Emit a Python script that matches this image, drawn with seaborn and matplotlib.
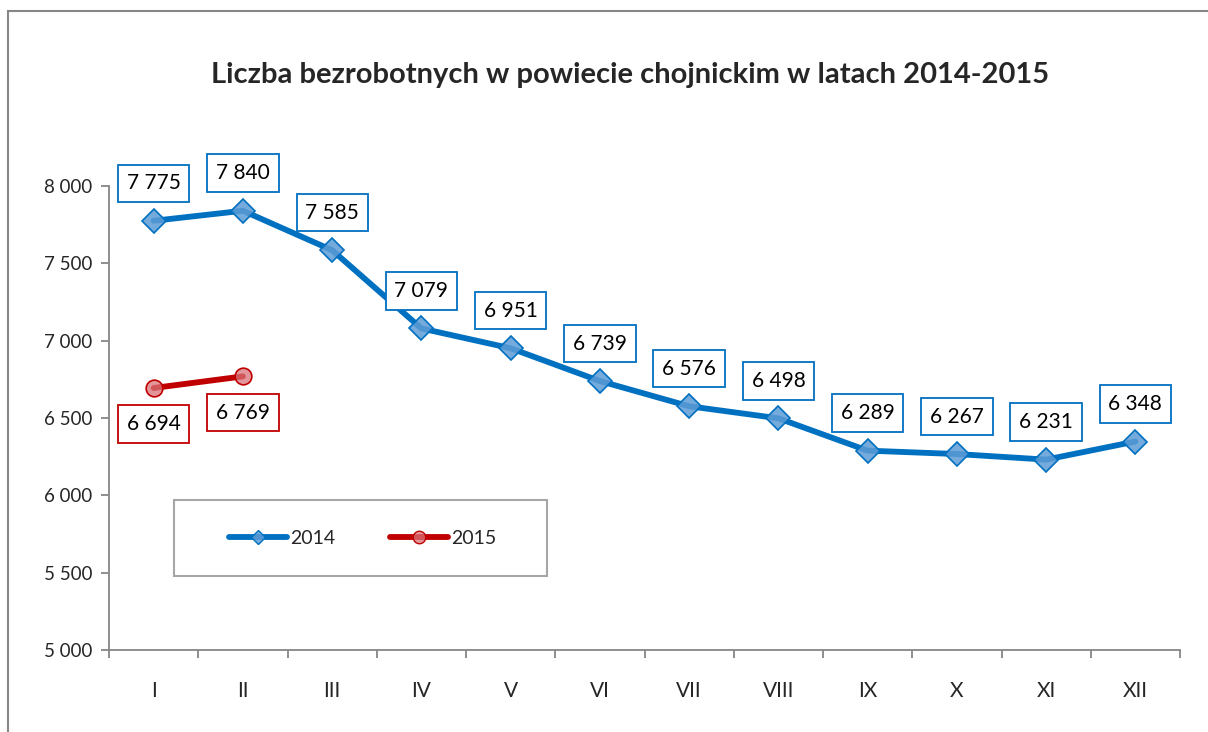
import numpy as np
import pandas as pd
import matplotlib
matplotlib.use('Agg')
import matplotlib.pyplot as plt
import seaborn as sns
from matplotlib.lines import Line2D
from matplotlib.patches import Rectangle

months = ['I', 'II', 'III', 'IV', 'V', 'VI', 'VII', 'VIII', 'IX', 'X', 'XI', 'XII']
values_2014 = [7775, 7840, 7585, 7079, 6951, 6739, 6576, 6498, 6289, 6267, 6231, 6348]
values_2015 = [6694, 6769]
y_ticks = [5000, 5500, 6000, 6500, 7000, 7500, 8000]

blue = '#0070C0'
blue_fill = (0.36, 0.61, 0.84, 0.85)
red = '#C00000'
red_fill = (0.85, 0.45, 0.47, 0.75)
axis_gray = '#868686'


def fmt(v):
    return f'{v:,}'.replace(',', ' ')


sns.set_style('white')
plt.rcParams['font.family'] = ['Lato', 'DejaVu Sans']

fig = plt.figure(figsize=(12.08, 7.32), dpi=100)
ax = fig.add_axes([109 / 1208, 1 - 650 / 732, 1071 / 1208, 464 / 732])

df14 = pd.DataFrame({'pos': np.arange(len(values_2014)), 'value': values_2014})
df15 = pd.DataFrame({'pos': np.arange(len(values_2015)), 'value': values_2015})

sns.lineplot(data=df14, x='pos', y='value', ax=ax, color=blue, linewidth=4.2,
             marker='D', markersize=12, markerfacecolor=blue_fill,
             markeredgecolor=blue, markeredgewidth=1.2, clip_on=False,
             solid_capstyle='round')
sns.lineplot(data=df15, x='pos', y='value', ax=ax, color=red, linewidth=4.2,
             marker='o', markersize=12, markerfacecolor=red_fill,
             markeredgecolor=red, markeredgewidth=1.2, clip_on=False,
             solid_capstyle='round')

# data labels
for x, v in zip(df14['pos'], df14['value']):
    ax.annotate(fmt(v), (x, v), xytext=(0, 27), textcoords='offset points',
                ha='center', va='center', fontsize=15, color='black',
                bbox=dict(boxstyle='square,pad=0.42', fc='white', ec=blue, lw=1.3),
                annotation_clip=False)
for x, v in zip(df15['pos'], df15['value']):
    ax.annotate(fmt(v), (x, v), xytext=(0, -26), textcoords='offset points',
                ha='center', va='center', fontsize=15, color='black',
                bbox=dict(boxstyle='square,pad=0.42', fc='white', ec=red, lw=1.3),
                annotation_clip=False)

ax.set_xlim(-0.5, len(months) - 0.5)
ax.set_ylim(5000, 8000)
ax.set_yticks(y_ticks)
ax.set_yticklabels([fmt(t) for t in y_ticks], fontsize=13.5)
ax.set_xticks(np.arange(len(months)))
ax.set_xticklabels(months, fontsize=15)
ax.set_xticks(np.arange(len(months) + 1) - 0.5, minor=True)
ax.set_xlabel('')
ax.set_ylabel('')

ax.tick_params(axis='x', which='major', length=0, pad=22)
ax.tick_params(axis='x', which='minor', length=6, width=1.3, color=axis_gray, direction='out')
ax.tick_params(axis='y', which='major', length=6, width=1.3, color=axis_gray, direction='out', pad=6)
ax.yaxis.set_ticks_position('left')
ax.xaxis.set_ticks_position('bottom')
for side in ['top', 'right']:
    ax.spines[side].set_visible(False)
for side in ['left', 'bottom']:
    ax.spines[side].set_color(axis_gray)
    ax.spines[side].set_linewidth(1.3)

# legend
frame = Rectangle((65 / 1071, 74 / 464), 373 / 1071, 76 / 464, transform=ax.transAxes,
                  fc='white', ec='#A6A6A6', lw=1.5, zorder=5)
ax.add_patch(frame)
handles = [Line2D([], [], color=blue, lw=4.2, marker='D', markersize=7,
                  markerfacecolor=blue_fill, markeredgecolor=blue, solid_capstyle='round'),
           Line2D([], [], color=red, lw=4.2, marker='o', markersize=9,
                  markerfacecolor=red_fill, markeredgecolor=red, solid_capstyle='round')]
leg = ax.legend(handles, ['2014', '2015'], ncol=2, loc='center',
                bbox_to_anchor=(67 / 1071 + 373 / 1071 / 2, 112 / 464),
                frameon=False, fontsize=14, handlelength=3.0, handletextpad=0.15,
                columnspacing=2.8)
leg.set_zorder(6)

fig.text(630 / 1208, 1 - 75 / 732, 'Liczba bezrobotnych w powiecie chojnickim w latach 2014-2015',
         ha='center', va='center', fontsize=21, fontweight='bold')

border = Rectangle((8 / 1208, -0.05), 1.2, 1 - 11 / 732 + 0.05, transform=fig.transFigure,
                   fill=False, ec=axis_gray, lw=1.5)
fig.patches.append(border)

fig.savefig('out.png', dpi=100)
